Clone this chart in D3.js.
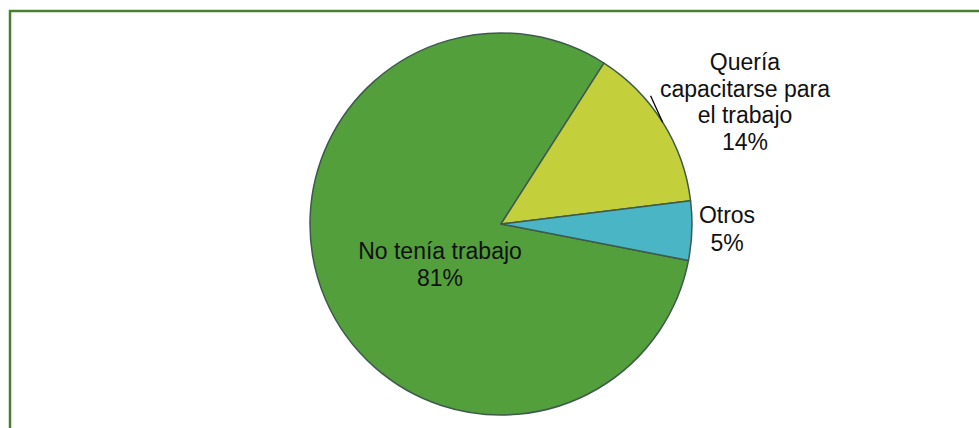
<!DOCTYPE html>
<html>
<head>
<meta charset="utf-8">
<script src="https://cdn.jsdelivr.net/npm/d3@7/dist/d3.min.js"></script>
<style>
  html, body { margin: 0; padding: 0; background: #fff; }
  svg { display: block; }
</style>
</head>
<body>
<svg id="chart" width="979" height="428"></svg>
<script>
// Motivos (porcentaje de respuestas)
const categories = ["No tenía trabajo", "Quería capacitarse para el trabajo", "Otros"];
const values = [81, 14, 5];
const labelLines = [
  ["No tenía trabajo", "81%"],
  ["Quería", "capacitarse para", "el trabajo", "14%"],
  ["Otros", "5%"]
];
const colors = ["#529f3b", "#c4cf3c", "#4ab5c5"];

const W = 979, H = 428;
const cx = 501, cy = 224, R = 191;

const svg = d3.select("#chart");

// outer frame (left and top edges visible, rest runs off the canvas)
svg.append("rect")
  .attr("x", 10).attr("y", 11)
  .attr("width", W + 20).attr("height", H + 20)
  .attr("fill", "none")
  .attr("stroke", "#4a7f30")
  .attr("stroke-width", 2.5);

const pie = d3.pie()
  .value(d => d)
  .sort(null)
  .startAngle(101 * Math.PI / 180)
  .endAngle((101 + 360) * Math.PI / 180);

const arcs = pie(values);
const arc = d3.arc().innerRadius(0).outerRadius(R);

const g = svg.append("g").attr("transform", `translate(${cx},${cy})`);

g.selectAll("path.slice")
  .data(arcs)
  .enter().append("path")
  .attr("class", "slice")
  .attr("d", arc)
  .attr("fill", (d, i) => colors[i])
  .attr("stroke", "#3e5a4c")
  .attr("stroke-width", 1.5)
  .attr("stroke-linejoin", "round");

// label anchors (center of first line), relative to the pie centre
const labelPos = [
  [-61, 27],
  [244, -162],
  [226, -9]
];
const lineH = [26.5, 26.5, 27.5];

labelLines.forEach((lines, i) => {
  const t = g.append("text")
    .attr("text-anchor", "middle")
    .attr("font-family", "'Liberation Sans', Arial, sans-serif")
    .attr("font-size", 23)
    .attr("fill", "#111");
  lines.forEach((ln, j) => {
    t.append("tspan")
      .attr("x", labelPos[i][0])
      .attr("y", labelPos[i][1] + j * lineH[i])
      .attr("dy", "0.35em")
      .text(ln);
  });
});

// leader line for the "Quería capacitarse..." label, ending on the slice edge
const mid = (arcs[1].startAngle + arcs[1].endAngle) / 2;
const onEdge = d3.pointRadial(mid, R);
const outer = d3.pointRadial(mid - 8.4 * Math.PI / 180, R + 6);
g.append("line")
  .attr("x1", outer[0]).attr("y1", outer[1])
  .attr("x2", onEdge[0]).attr("y2", onEdge[1])
  .attr("stroke", "#000")
  .attr("stroke-width", 1.3);
</script>
</body>
</html>
